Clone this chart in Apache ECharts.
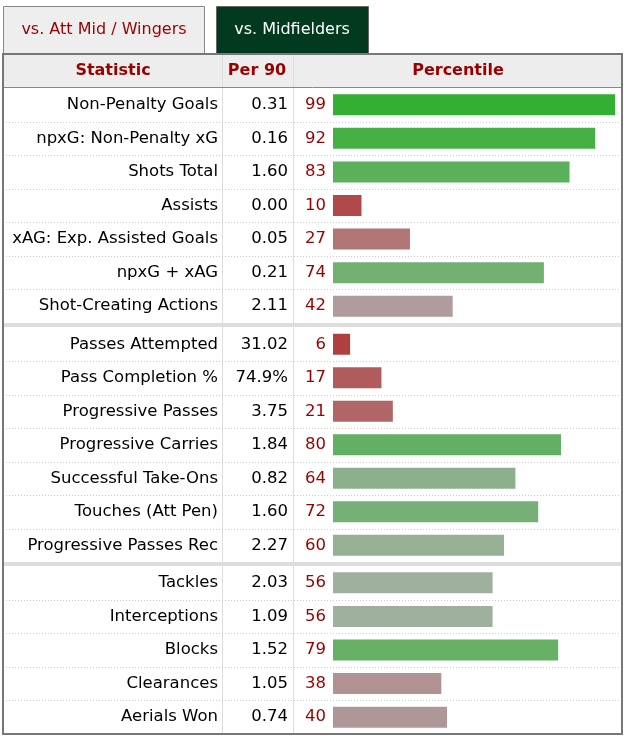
<!DOCTYPE html>
<html>
<head>
<meta charset="utf-8">
<script src="https://cdn.jsdelivr.net/npm/echarts@6/dist/echarts.min.js"></script>
<style>
  html, body { margin: 0; padding: 0; background: #fff; }
  #chart { width: 624px; height: 736px; }
</style>
</head>
<body>
<div id="chart"></div>
<script>
// rows of the scouting table, split in the three blocks
const statsAttack = ['Non-Penalty Goals', 'npxG: Non-Penalty xG', 'Shots Total', 'Assists',
  'xAG: Exp. Assisted Goals', 'npxG + xAG', 'Shot-Creating Actions'];
const per90Attack = ['0.31', '0.16', '1.60', '0.00', '0.05', '0.21', '2.11'];
const pctAttack = [99, 92, 83, 10, 27, 74, 42];

const statsPossession = ['Passes Attempted', 'Pass Completion %', 'Progressive Passes',
  'Progressive Carries', 'Successful Take-Ons', 'Touches (Att Pen)', 'Progressive Passes Rec'];
const per90Possession = ['31.02', '74.9%', '3.75', '1.84', '0.82', '1.60', '2.27'];
const pctPossession = [6, 17, 21, 80, 64, 72, 60];

const statsDefense = ['Tackles', 'Interceptions', 'Blocks', 'Clearances', 'Aerials Won'];
const per90Defense = ['2.03', '1.09', '1.52', '1.05', '0.74'];
const pctDefense = [56, 56, 79, 38, 40];

const tabs = ['vs. Att Mid / Wingers', 'vs. Midfielders'];
const headers = ['Statistic', 'Per 90', 'Percentile'];

// layout
const FONT = 'DejaVu Sans, Verdana, sans-serif';
const FS = 16.5;
const L = 3, R = 622, HEAD_T = 54, HEAD_B = 87, BOTTOM = 734;
const COL1 = 222, COL2 = 293;
const BAR_L = 333;
const sections = [
  { names: statsAttack, per90: per90Attack, pct: pctAttack, top: 88, bottom: 323 },
  { names: statsPossession, per90: per90Possession, pct: pctPossession, top: 327.5, bottom: 562 },
  { names: statsDefense, per90: per90Defense, pct: pctDefense, top: 566, bottom: 734 }
];

// fbref style colour: green above the median, red below
function barColor (p) {
  if (p >= 50) {
    const c = Math.round(51 + (99 - p) * 2.5);
    return 'rgb(' + c + ',176,' + c + ')';
  }
  const c = Math.round(64 + (p - 6) * 2.55);
  return 'rgb(176,' + c + ',' + c + ')';
}

let myChart = echarts.init(document.getElementById('chart'));

let grids = [], xAxes = [], yAxes = [], series = [];
let graphics = [];

// tabs
graphics.push({ type: 'rect', shape: { x: 3.5, y: 6.5, width: 201, height: 48 },
  style: { fill: '#eeeeee', stroke: '#888', lineWidth: 1 } });
graphics.push({ type: 'text', x: 104, y: 30, style: { text: tabs[0], fill: '#990000',
  font: '16px ' + FONT, align: 'center', verticalAlign: 'middle' } });
graphics.push({ type: 'rect', shape: { x: 216.5, y: 6.5, width: 152, height: 48 },
  style: { fill: '#013a1f', stroke: '#666', lineWidth: 1 } });
graphics.push({ type: 'text', x: 292, y: 30, style: { text: tabs[1], fill: '#ffffff',
  font: '16px ' + FONT, align: 'center', verticalAlign: 'middle' } });

// header row
graphics.push({ type: 'rect', shape: { x: L, y: HEAD_T, width: R - L, height: HEAD_B - HEAD_T },
  style: { fill: '#ededed' } });
[[113, headers[0]], [257, headers[1]], [458, headers[2]]].forEach(function (h) {
  graphics.push({ type: 'text', x: h[0], y: 71, style: { text: h[1], fill: '#990000',
    font: 'bold 16px ' + FONT, align: 'center', verticalAlign: 'middle' } });
});

// column lines
[COL1 + 0.5, COL2 + 0.5].forEach(function (x) {
  graphics.push({ type: 'line', shape: { x1: x, y1: HEAD_T, x2: x, y2: BOTTOM },
    style: { stroke: '#dddddd', lineWidth: 1 } });
});

sections.forEach(function (s, g) {
  let n = s.names.length;
  let rowH = (s.bottom - s.top) / n;
  // dotted row separators
  for (let i = 1; i < n; i++) {
    let y = Math.round(s.top + i * rowH) + 0.5;
    graphics.push({ type: 'line', shape: { x1: L, y1: y, x2: R, y2: y },
      style: { stroke: '#cccccc', lineWidth: 1, lineDash: [1, 2] } });
  }
  // thick band between blocks
  if (g > 0) {
    graphics.push({ type: 'rect', shape: { x: L, y: Math.floor(s.top) - 4, width: R - L, height: 4 },
      style: { fill: '#dddddd' } });
  }

  grids.push({ left: BAR_L, right: 624 - (BAR_L + 285), top: s.top, height: s.bottom - s.top,
    containLabel: false, outerBoundsMode: 'none' });
  xAxes.push({ gridIndex: g, type: 'value', min: 0, max: 100, show: false });

  let base = { gridIndex: g, type: 'category', inverse: true, data: s.names,
    position: 'left', offset: 0,
    axisLine: { show: false }, axisTick: { show: false }, splitLine: { show: false } };
  // percentile column
  yAxes.push(Object.assign({}, base, {
    axisLabel: { interval: 0, margin: 7, color: '#990000', fontSize: FS, fontFamily: FONT,
      formatter: function (v) { return String(s.pct[s.names.indexOf(v)]); } }
  }));
  // per 90 column
  yAxes.push(Object.assign({}, base, {
    axisLabel: { interval: 0, margin: 45, color: '#000', fontSize: FS, fontFamily: FONT,
      formatter: function (v) { return s.per90[s.names.indexOf(v)]; } }
  }));
  // statistic names
  yAxes.push(Object.assign({}, base, {
    axisLabel: { interval: 0, margin: 115, color: '#000', fontSize: FS, fontFamily: FONT }
  }));

  series.push({
    type: 'bar',
    xAxisIndex: g,
    yAxisIndex: g * 3,
    barWidth: 21,
    silent: true,
    data: s.pct.map(function (p) { return { value: p, itemStyle: { color: barColor(p) } }; })
  });
});

// outer border + header bottom line
graphics.push({ type: 'line', shape: { x1: L, y1: HEAD_B + 0.5, x2: R, y2: HEAD_B + 0.5 },
  style: { stroke: '#888', lineWidth: 1 } });
graphics.push({ type: 'rect', shape: { x: L, y: HEAD_T, width: R - L, height: BOTTOM - HEAD_T },
  style: { fill: 'none', stroke: '#777', lineWidth: 2 } });

myChart.setOption({
  animation: false,
  grid: grids,
  xAxis: xAxes,
  yAxis: yAxes,
  series: series,
  graphic: graphics
});
</script>
</body>
</html>
